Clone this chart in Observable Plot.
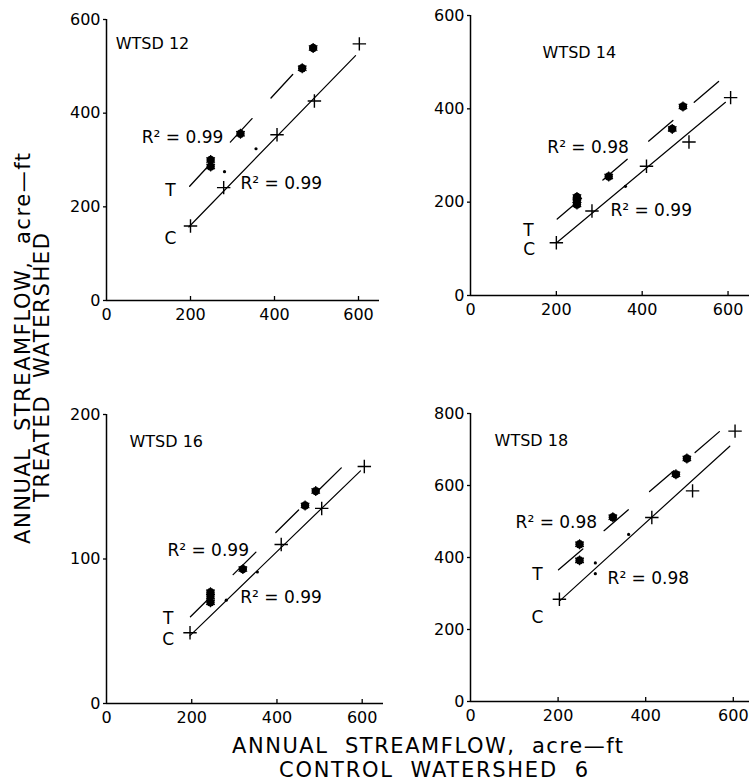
<!DOCTYPE html>
<html><head><meta charset="utf-8">
<script src="https://cdn.jsdelivr.net/npm/d3@7"></script>
<script src="https://cdn.jsdelivr.net/npm/@observablehq/plot@0.6"></script>
<style>
body{margin:0;background:#fff;}
#wrap{position:relative;width:749px;height:782px;overflow:hidden;background:#fff;font-family:"DejaVu Sans";}
#wrap svg{position:absolute;}
</style></head><body><div id="wrap"></div>
<script>
// ---- data ----
const panelNames = ["WTSD 12", "WTSD 14", "WTSD 16", "WTSD 18"];
const xTicks = [0, 200, 400, 600];
const yTicks12 = [0, 200, 400, 600];
const yTicks14 = [0, 200, 400, 600];
const yTicks16 = [0, 100, 200];
const yTicks18 = [0, 200, 400, 600, 800];

// control-period points (+)
const control12 = [[200,159],[279,241],[406,354],[495,426],[602,548]];
const control14 = [[200,113],[283,181],[410,277],[509,329],[606,424]];
const control16 = [[196,49],[410,110],[505,135],[605,164]];
const control18 = [[203,284],[414,511],[507,585],[604,751]];
// small dots
const minor12 = [[281,275],[356,324]];
const minor14 = [[361,234]];
const minor16 = [[281,71.5],[354,91]];
const minor18 = [[285,385],[285,355],[361,464]];
// treatment-period points (filled)
const treated12 = [[248,300],[248,286],[319,356],[466,496],[492,539]];
const treated14 = [[248,195],[248,204],[248,211],[322,255],[470,357],[495,405]];
const treated16 = [[244,70],[244,74],[244,77],[320,93],[466,137],[491,147]];
const treated18 = [[249,437],[249,392],[325,512],[469,631],[494,675]];
// regression lines (end points)
const cLine12 = [[196,157],[593,523]];
const tLine12 = [[198,244],[454,493]];
const cLine14 = [[202,114],[594,414]];
const tLine14 = [[202,164],[590,468]];
const cLine16 = [[196,47],[596,161]];
const tLine16 = [[197,60],[561,166]];
const cLine18 = [[205,281],[592,709]];
const tLine18 = [[201,366],[581,763]];
// r-squared text
const r2Treated = ["0.99", "0.98", "0.99", "0.98"];
const r2Control = ["0.99", "0.99", "0.99", "0.98"];
const xTitle = ["ANNUAL  STREAMFLOW,  acre\u2014ft", "CONTROL  WATERSHED  6"];
const yTitle = ["ANNUAL  STREAMFLOW,  acre\u2014ft", "TREATED  WATERSHED"];

// ---- layout ----
const layout = [
  {left:0, top:0, width:385, height:330, mL:106, mR:6, mT:19, mB:30, xDom:[0,650], yDom:[0,600], yTicks:yTicks12,
   control:control12, minor:minor12, treated:treated12, cLine:cLine12, tLine:tLine12,
   pos:{name:[22,549], r2t:[84,348], r2c:[319,250], T:[152,235], C:[152,132]}},
  {left:370, top:0, width:379, height:330, mL:100, mR:0, mT:15, mB:35, xDom:[0,650], yDom:[0,600], yTicks:yTicks14,
   control:control14, minor:minor14, treated:treated14, cLine:cLine14, tLine:tLine14,
   pos:{name:[168,519], r2t:[179,317], r2c:[326,182], T:[135,139], C:[137,99]}},
  {left:0, top:370, width:385, height:360, mL:106, mR:2, mT:44, mB:27, xDom:[0,650], yDom:[0,200], yTicks:yTicks16,
   control:control16, minor:minor16, treated:treated16, cLine:cLine16, tLine:tLine16,
   pos:{name:[54,181], r2t:[143,106], r2c:[314,73], T:[145,59], C:[145,44]}},
  {left:370, top:370, width:379, height:360, mL:100, mR:0, mT:43, mB:29, xDom:[0,637], yDom:[0,800], yTicks:yTicks18,
   control:control18, minor:minor18, treated:treated18, cLine:cLine18, tLine:tLine18,
   pos:{name:[55,725], r2t:[103,497], r2c:[313,342], T:[153,353], C:[153,233]}}
];

const wrap = document.getElementById("wrap");
const X = d => d[0], Y = d => d[1];

layout.forEach((p, i) => {
  const startTexts = [
    {x:p.pos.r2t[0], y:p.pos.r2t[1], t:"R\u00b2 = " + r2Treated[i]},
    {x:p.pos.r2c[0], y:p.pos.r2c[1], t:"R\u00b2 = " + r2Control[i]}
  ];
  const midTexts = [
    {x:p.pos.T[0], y:p.pos.T[1], t:"T"},
    {x:p.pos.C[0], y:p.pos.C[1], t:"C"}
  ];
  const chart = Plot.plot({
    width: p.width, height: p.height,
    marginLeft: p.mL, marginRight: p.mR, marginTop: p.mT, marginBottom: p.mB,
    x: {domain: p.xDom}, y: {domain: p.yDom},
    style: {background: "none", overflow: "visible", fontFamily: "DejaVu Sans", color: "black"},
    marks: [
      Plot.ruleY([0], {stroke: "black", strokeWidth: 1.5}),
      Plot.ruleX([0], {stroke: "black", strokeWidth: 1.5}),
      Plot.axisY(p.yTicks, {tickSize: 3, tickPadding: 3, fontSize: 16, label: null, stroke: "black", strokeWidth: 1.3}),
      Plot.axisX(xTicks, {tickSize: 0, tickPadding: 8, fontSize: 16, label: null}),
      Plot.ruleX(xTicks.slice(1), {x: d => d, y1: () => 0, y2: () => 0, insetBottom: 4, stroke: "black", strokeWidth: 1.3}),
      Plot.line(p.cLine, {x: X, y: Y, stroke: "black", strokeWidth: 1.2}),
      Plot.line(p.tLine, {x: X, y: Y, stroke: "black", strokeWidth: 1.3, strokeDasharray: "32,28"}),
      Plot.dot(p.control, {x: X, y: Y, symbol: "plus", r: 4.4, stroke: "black", strokeWidth: 1.4}),
      Plot.dot(p.minor, {x: X, y: Y, r: 1.6, fill: "black"}),
      Plot.dot(p.treated, {x: X, y: Y, r: 4.2, fill: "black"}),
      Plot.dot(p.treated, {x: X, y: Y, symbol: "asterisk", r: 4.7, stroke: "black", strokeWidth: 1.2}),
      Plot.text([panelNames[i]], {x: () => p.pos.name[0], y: () => p.pos.name[1], text: d => d, fontSize: 16, textAnchor: "start", fill: "black"}),
      Plot.text(startTexts, {x: "x", y: "y", text: "t", fontSize: 17, textAnchor: "start", fill: "black"}),
      Plot.text(midTexts, {x: "x", y: "y", text: "t", fontSize: 17, textAnchor: "middle", fill: "black"})
    ]
  });
  chart.style.left = p.left + "px";
  chart.style.top = p.top + "px";
  wrap.appendChild(chart);
});

// axis titles
const ov = d3.select(wrap).append("svg").attr("width", 749).attr("height", 782)
  .style("left", "0px").style("top", "0px").style("pointer-events", "none");
const tAttrs = (sel) => sel.attr("font-family", "DejaVu Sans").attr("font-size", 21).attr("fill", "black")
  .attr("lengthAdjust", "spacing").style("white-space", "pre");
tAttrs(ov.append("text").attr("x", 232).attr("y", 753).attr("textLength", 391).text(xTitle[0]));
tAttrs(ov.append("text").attr("x", 279).attr("y", 777).attr("textLength", 309).text(xTitle[1]));
tAttrs(ov.append("text").attr("transform", "translate(30,544) rotate(-90)").attr("textLength", 391).text(yTitle[0]));
tAttrs(ov.append("text").attr("transform", "translate(49,502) rotate(-90)").attr("textLength", 269).text(yTitle[1]));
</script></body></html>
